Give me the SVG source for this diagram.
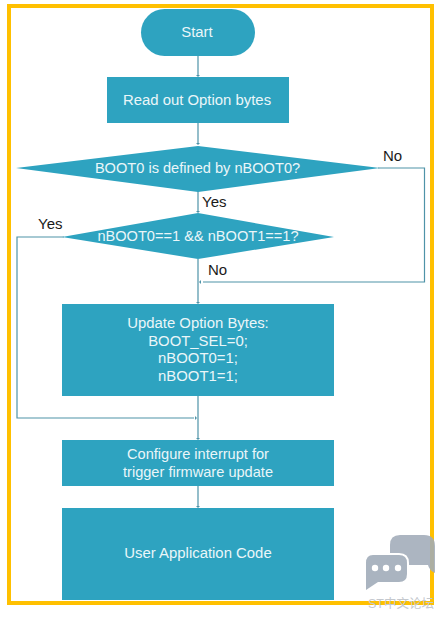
<svg xmlns="http://www.w3.org/2000/svg" width="444" height="618" viewBox="0 0 444 618">
<style>
.n{fill:#2ea3c0}
.t{font-family:"Liberation Sans",Arial,sans-serif;font-size:14.900px;fill:#eaf6f9;text-anchor:middle}
.s{font-size:14.600px}
.l{font-family:"Liberation Sans",Arial,sans-serif;font-size:15px;fill:#1a1a1a}
.c{fill:none;stroke:#4f93a8;stroke-width:1.200}
.a{fill:#4f93a8}
</style>
<rect width="444" height="618" fill="#fff"/>
<rect id="frame" x="9" y="6" width="423" height="597" fill="none" stroke="#ffc000" stroke-width="4"/>
<g id="connectors">
<path class="c" d="M198 55V75M198 123V143M198 191V211M198 259V302M198 396V438M198 486V506"/>
<path class="c" d="M378 168H424.500V282H203"/>
<path class="c" d="M64 237H17V418H194"/>
<path class="a" d="M196 75h4l-2 2zM196 143h4l-2 2zM196 211h4l-2 2zM196 302h4l-2 2zM196 438h4l-2 2zM196 506h4l-2 2zM201 280v4l-2-2zM195 416v4l2-2z"/>
</g>
<g id="start"><rect class="n" x="141" y="9" width="114" height="47" rx="23.500"/><text class="t" x="197" y="37">Start</text></g>
<g id="read"><rect class="n" x="107" y="77" width="182" height="46"/><text class="t" x="197" y="105">Read out Option bytes</text></g>
<g id="d1"><polygon class="n" points="16,168 198,146 380,168 198,192"/><text class="t s" x="197.500" y="173">BOOT0 is defined by nBOOT0?</text></g>
<g id="d2"><polygon class="n" points="62,237 198,213 334,237 198,259"/><text class="t s" x="198" y="241">nBOOT0==1 &amp;&amp; nBOOT1==1?</text></g>
<g id="update"><rect class="n" x="62" y="304" width="272" height="92"/>
<text class="t" x="198" y="328">Update Option Bytes:</text><text class="t" x="198" y="346">BOOT_SEL=0;</text><text class="t" x="198" y="363">nBOOT0=1;</text><text class="t" x="198" y="381">nBOOT1=1;</text></g>
<g id="config"><rect class="n" x="62" y="440" width="272" height="46"/><text class="t s" x="198" y="459">Configure interrupt for</text><text class="t s" x="198" y="477">trigger firmware update</text></g>
<g id="app"><rect class="n" x="62" y="508" width="272" height="92"/><text class="t" x="198" y="558">User Application Code</text></g>
<g id="labels">
<text class="l" x="383" y="161">No</text><text class="l" x="202" y="207">Yes</text><text class="l" x="38" y="229">Yes</text><text class="l" x="208" y="275">No</text>
</g>
<g id="watermark">
<path d="M400 535H424Q435 535 435 546V573Q429 570 428 565H400Q390 565 390 555V545Q390 535 400 535Z" fill="#a0abb8" fill-opacity=".88"/>
<path d="M373 555H399Q407 555 407 563V574Q407 582 399 582H378L366 590V563Q366 555 373 555Z" fill="#aab4c0" stroke="#fff" stroke-width="4" paint-order="stroke"/>
<circle cx="375" cy="568" r="3.200" fill="#fff"/><circle cx="386" cy="568" r="3.200" fill="#fff"/><circle cx="398" cy="568" r="3.200" fill="#fff"/>
<text x="368" y="608" font-family="'Liberation Sans','Noto Sans CJK SC',sans-serif" font-size="12.500" fill="#c4c8ce">ST中文论坛</text>
</g>
</svg>
